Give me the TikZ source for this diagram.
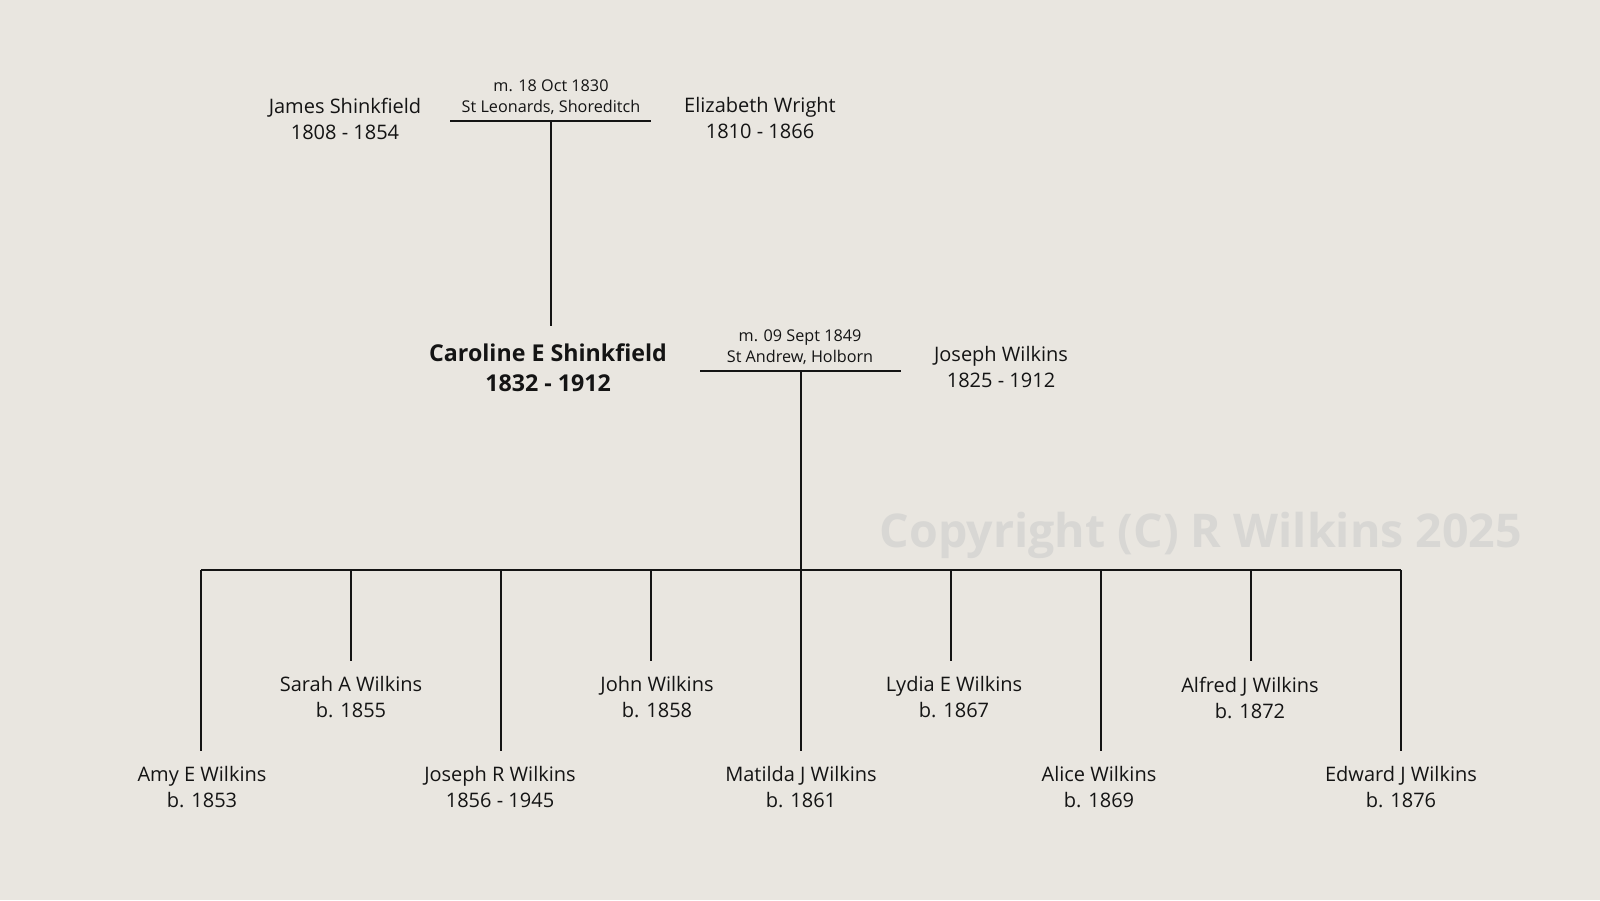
\documentclass[tikz,border=0pt]{standalone}
\usepackage{fontspec}
\setmainfont{Open Sans}
\definecolor{bg}{RGB}{233,230,224}
\definecolor{wm}{RGB}{216,215,212}
\definecolor{ink}{RGB}{20,20,20}
\begin{document}
\begin{tikzpicture}[x=1pt,y=-1pt,
  person/.style={align=center,inner sep=0pt,text=ink,font=\fontsize{20}{26}\selectfont},
  mainp/.style={align=center,inner sep=0pt,text=ink,font=\fontsize{23.2}{30.5}\selectfont\bfseries},
  mtext/.style={align=center,inner sep=0pt,text=ink,font=\fontsize{16.2}{20.4}\selectfont},
  link/.style={line width=2pt,draw=ink},
  water/.style={inner sep=0pt,text=wm,font=\fontsize{46.5}{50}\selectfont\bfseries}]
\fill[bg] (0,0) rectangle (1600,900);
\useasboundingbox (0,0) rectangle (1600,900);

% watermark
\node[water] (wmark) at (1201,535) {Copyright (C) R Wilkins 2025};

% generation 1
\node[person] (james) at (345,118.5) {James Shinkfield\\1808 - 1854};
\node[person] (eliz) at (760,117.5) {Elizabeth Wright\\1810 - 1866};
\node[mtext] (m1) at (551,97) {m. 18 Oct 1830\\St Leonards, Shoreditch};
\coordinate (m1l) at (450,121);
\coordinate (m1r) at (651,121);
\coordinate (m1c) at (551,121);
\coordinate (m1d) at (551,326);
\draw[link] (m1l) -- (m1r);
\draw[link] (m1c) -- (m1d);

% generation 2
\node[mainp] (caro) at (548,367.5) {Caroline E Shinkfield\\1832 - 1912};
\node[person] (joseph) at (1001,367) {Joseph Wilkins\\1825 - 1912};
\node[mtext] (m2) at (800,347) {m. 09 Sept 1849\\St Andrew, Holborn};
\coordinate (m2l) at (700,371);
\coordinate (m2r) at (901,371);
\coordinate (m2c) at (801,371);
\coordinate (bar) at (801,570);
\draw[link] (m2l) -- (m2r);
\draw[link] (m2c) -- (bar);

% children bar
\coordinate (barl) at (201,570);
\coordinate (barr) at (1401,570);
\draw[link] (barl) -- (barr);

% children
\node[person] (c1) at (202,787) {Amy E Wilkins\\b. 1853};
\node[person] (c2) at (351,697.5) {Sarah A Wilkins\\b. 1855};
\node[person] (c3) at (500,787) {Joseph R Wilkins\\1856 - 1945};
\node[person] (c4) at (657,697.5) {John Wilkins\\b. 1858};
\node[person] (c5) at (801,787) {Matilda J Wilkins\\b. 1861};
\node[person] (c6) at (954,697.5) {Lydia E Wilkins\\b. 1867};
\node[person] (c7) at (1099,787) {Alice Wilkins\\b. 1869};
\node[person] (c8) at (1250,697.5) {Alfred J Wilkins\\b. 1872};
\node[person] (c9) at (1401,787) {Edward J Wilkins\\b. 1876};

\foreach \i/\x/\e in {1/201/751,2/351/661,3/501/751,4/651/661,5/801/751,6/951/661,7/1101/751,8/1251/661,9/1401/751}{
  \coordinate (t\i) at (\x,570);
  \coordinate (e\i) at (\x,\e);
  \draw[link] (t\i) -- (e\i);
}
\end{tikzpicture}
\end{document}
